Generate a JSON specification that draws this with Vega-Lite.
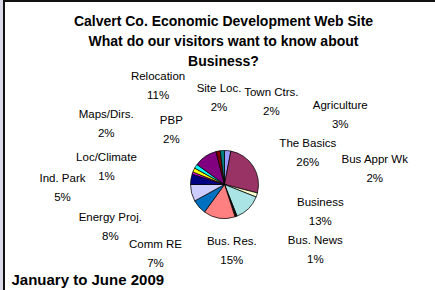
{
  "$schema": "https://vega.github.io/schema/vega-lite/v6.json",
  "width": 441,
  "height": 367,
  "autosize": {"type": "none"},
  "padding": {"left": 4, "top": 1, "right": -10, "bottom": -78},
  "background": "#d9dce8",
  "config": {
    "view": {"stroke": "#111111", "strokeWidth": 2, "fill": "white"},
    "font": "Liberation Sans",
    "text": {"font": "Liberation Sans", "fontSize": 11.5, "lineHeight": 19, "lineBreak": "\n", "baseline": "middle", "align": "center", "color": "black"}
  },
  "title": {
    "text": ["Calvert Co. Economic Development Web Site", "What do our visitors want to know about", "Business?"],
    "orient": "top",
    "anchor": "middle",
    "frame": "group",
    "offset": -95,
    "dx": -1,
    "font": "Liberation Sans",
    "fontSize": 14,
    "fontWeight": "bold",
    "color": "black",
    "lineHeight": 20
  },
  "data": {
    "values": [
      {"i": 1, "c": "Agriculture", "p": "3%", "v": 3},
      {"i": 2, "c": "The Basics", "p": "26%", "v": 26},
      {"i": 3, "c": "Bus Appr Wk", "p": "2%", "v": 2},
      {"i": 4, "c": "Business", "p": "13%", "v": 13},
      {"i": 5, "c": "Bus. News", "p": "1%", "v": 1},
      {"i": 6, "c": "Bus. Res.", "p": "15%", "v": 15},
      {"i": 7, "c": "Comm RE", "p": "7%", "v": 7},
      {"i": 8, "c": "Energy Proj.", "p": "8%", "v": 8},
      {"i": 9, "c": "Ind. Park", "p": "5%", "v": 5},
      {"i": 10, "c": "Loc/Climate", "p": "1%", "v": 1},
      {"i": 11, "c": "PBP", "p": "2%", "v": 2},
      {"i": 12, "c": "Maps/Dirs.", "p": "2%", "v": 2},
      {"i": 13, "c": "Relocation", "p": "11%", "v": 11},
      {"i": 14, "c": "Site Loc.", "p": "2%", "v": 2},
      {"i": 15, "c": "Town Ctrs.", "p": "2%", "v": 2}
    ]
  },
  "transform": [{"calculate": "datum.c + '\\n' + datum.p", "as": "lab"}],
  "layer": [
    {
      "mark": {"type": "arc", "radius": 34, "stroke": "black", "strokeWidth": 0.75},
      "encoding": {
        "theta": {"field": "v", "type": "quantitative", "stack": true},
        "order": {"field": "i", "type": "quantitative"},
        "color": {
          "field": "c",
          "type": "nominal",
          "legend": null,
          "scale": {
            "domain": ["Agriculture", "The Basics", "Bus Appr Wk", "Business", "Bus. News", "Bus. Res.", "Comm RE", "Energy Proj.", "Ind. Park", "Loc/Climate", "PBP", "Maps/Dirs.", "Relocation", "Site Loc.", "Town Ctrs."],
            "range": ["#9999ff", "#993366", "#ffffcc", "#aae4e4", "#111111", "#ff8080", "#0070c0", "#ccccff", "#000080", "#ff00ff", "#ffff00", "#00ffff", "#800080", "#800000", "#008080"]
          }
        }
      }
    },
    {
      "mark": {"type": "point", "opacity": 0},
      "encoding": {
        "x": {
          "field": "v",
          "type": "quantitative",
          "axis": {
            "title": "January to June 2009",
            "orient": "bottom",
            "offset": -84,
            "domain": false,
            "ticks": false,
            "labels": false,
            "grid": false,
            "titleX": 7,
            "titleAlign": "left",
            "titleBaseline": "alphabetic",
            "titlePadding": 0,
            "titleFont": "Liberation Sans",
            "titleFontSize": 15,
            "titleFontWeight": "bold",
            "titleColor": "black"
          }
        }
      }
    },
    {
      "encoding": {
        "theta": {"field": "v", "type": "quantitative", "stack": true},
        "order": {"field": "i", "type": "quantitative"}
      },
      "layer": [
        {"mark": {"type": "text", "radius": 82, "dx": 108, "dy": 3}, "encoding": {"text": {"condition": {"test": "datum.c === 'Agriculture'", "field": "lab"}, "value": ""}}},
        {"mark": {"type": "text", "radius": 88, "dx": 9, "dy": 7}, "encoding": {"text": {"condition": {"test": "datum.c === 'The Basics'", "field": "lab"}, "value": ""}}},
        {"mark": {"type": "text", "radius": 138, "dx": 19, "dy": -67}, "encoding": {"text": {"condition": {"test": "datum.c === 'Bus Appr Wk'", "field": "lab"}, "value": ""}}},
        {"mark": {"type": "text", "radius": 86, "dx": 35, "dy": -42}, "encoding": {"text": {"condition": {"test": "datum.c === 'Business'", "field": "lab"}, "value": ""}}},
        {"mark": {"type": "text", "radius": 91, "dx": 60, "dy": -29}, "encoding": {"text": {"condition": {"test": "datum.c === 'Bus. News'", "field": "lab"}, "value": ""}}},
        {"mark": {"type": "text", "radius": 62, "dx": 17, "dy": -4}, "encoding": {"text": {"condition": {"test": "datum.c === 'Bus. Res.'", "field": "lab"}, "value": ""}}},
        {"mark": {"type": "text", "radius": 96, "dx": 3, "dy": -3}, "encoding": {"text": {"condition": {"test": "datum.c === 'Comm RE'", "field": "lab"}, "value": ""}}},
        {"mark": {"type": "text", "radius": 121, "dx": 3, "dy": 3}, "encoding": {"text": {"condition": {"test": "datum.c === 'Energy Proj.'", "field": "lab"}, "value": ""}}},
        {"mark": {"type": "text", "radius": 160, "dx": -4, "dy": 20}, "encoding": {"text": {"condition": {"test": "datum.c === 'Ind. Park'", "field": "lab"}, "value": ""}}},
        {"mark": {"type": "text", "radius": 118, "dx": -7, "dy": 13}, "encoding": {"text": {"condition": {"test": "datum.c === 'Loc/Climate'", "field": "lab"}, "value": ""}}},
        {"mark": {"type": "text", "radius": 72, "dx": 12, "dy": -33}, "encoding": {"text": {"condition": {"test": "datum.c === 'PBP'", "field": "lab"}, "value": ""}}},
        {"mark": {"type": "text", "radius": 133, "dx": -6, "dy": 2}, "encoding": {"text": {"condition": {"test": "datum.c === 'Maps/Dirs.'", "field": "lab"}, "value": ""}}},
        {"mark": {"type": "text", "radius": 120, "dx": 1, "dy": -8}, "encoding": {"text": {"condition": {"test": "datum.c === 'Relocation'", "field": "lab"}, "value": ""}}},
        {"mark": {"type": "text", "radius": 88, "dx": 11, "dy": -9}, "encoding": {"text": {"condition": {"test": "datum.c === 'Site Loc.'", "field": "lab"}, "value": ""}}},
        {"mark": {"type": "text", "radius": 82, "dx": 52, "dy": -10}, "encoding": {"text": {"condition": {"test": "datum.c === 'Town Ctrs.'", "field": "lab"}, "value": ""}}}
      ]
    }
  ]
}
